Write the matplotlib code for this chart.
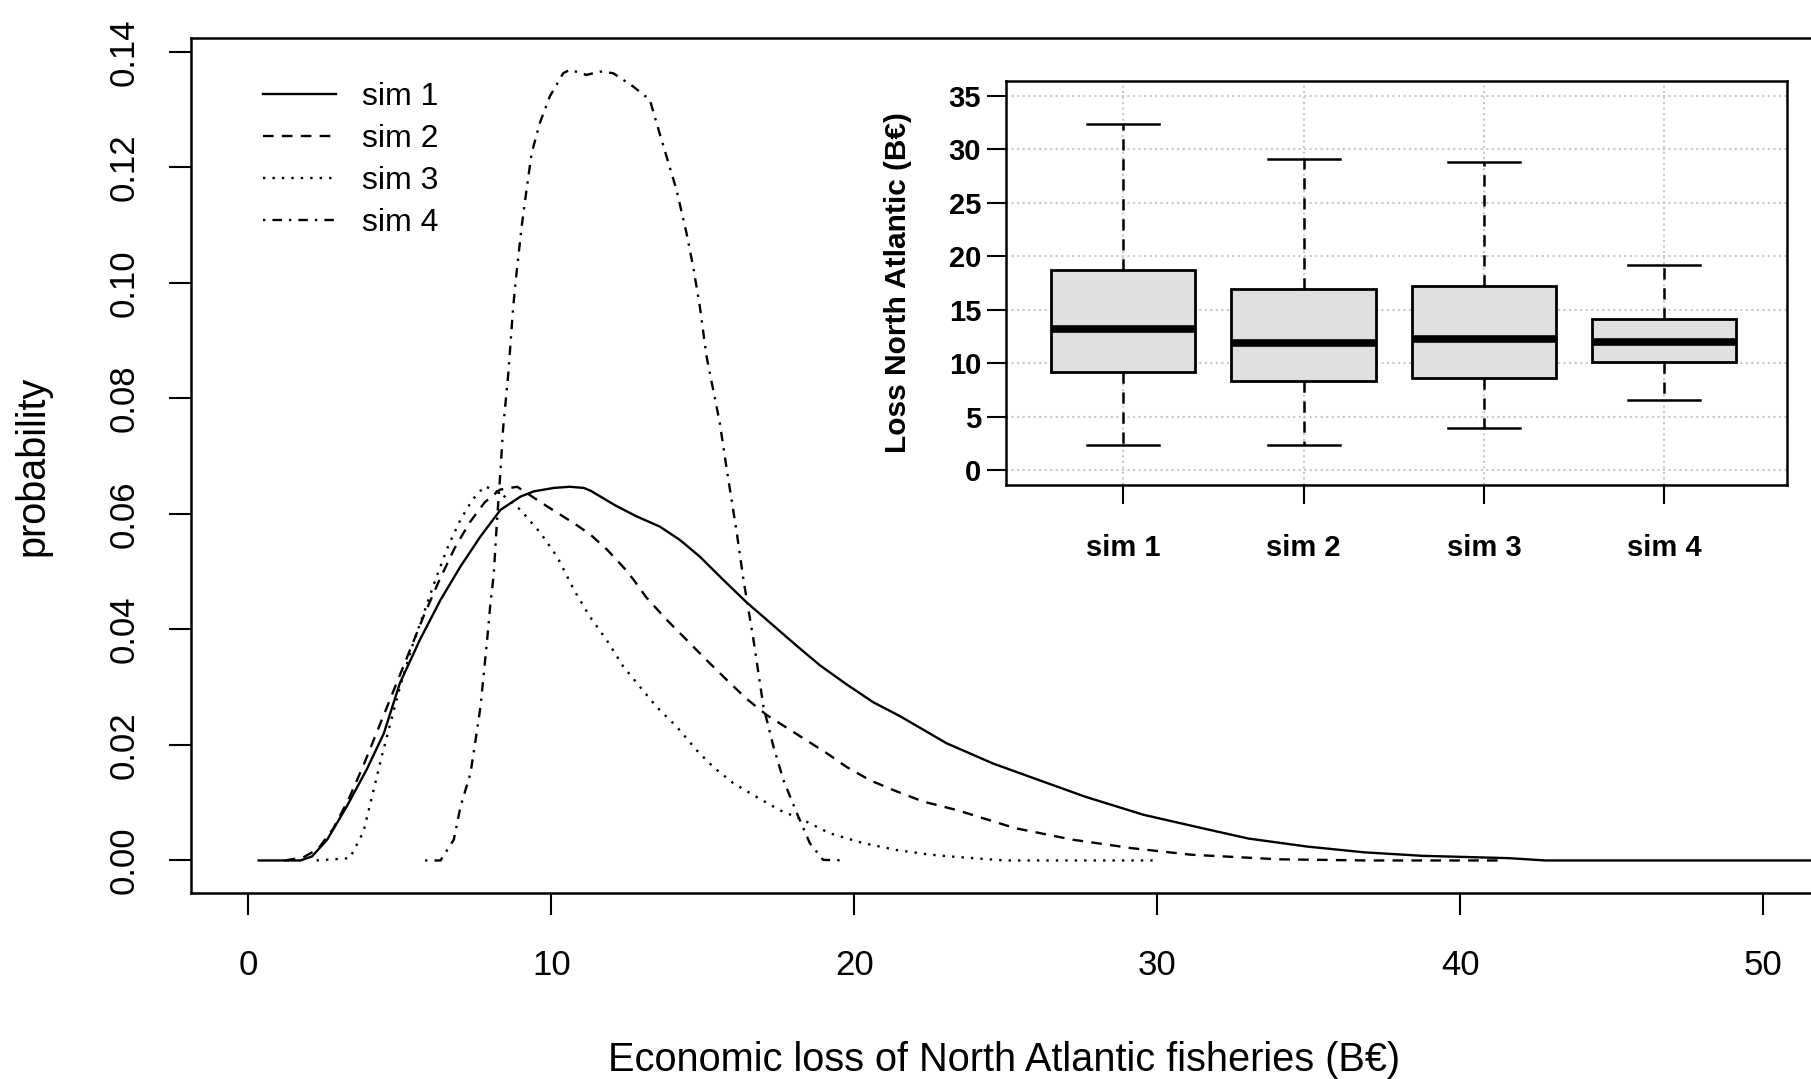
import matplotlib
matplotlib.use("Agg")
import matplotlib.pyplot as plt

plt.rcParams['font.family'] = ['Liberation Sans', 'DejaVu Sans']

# density curves of the four simulations (loss in B-euro, probability)
sim1_x = [0.34, 1.72, 2.10, 2.60, 3.24, 3.90, 4.47, 5.0, 5.66, 6.34, 7.0, 7.66, 8.32, 8.98,
          9.42, 10.08, 10.6, 11.07, 11.3, 12.1, 12.8, 13.58, 14.24, 14.9, 15.67, 16.44, 17.10,
          18.09, 18.86, 19.74, 20.62, 21.5, 23.04, 24.57, 26.1, 27.64, 29.55, 31.47, 33.0,
          34.95, 36.85, 38.76, 41.6, 42.8, 57.3]
sim1_y = [0, 0, 0.0007, 0.0036, 0.0093, 0.0157, 0.0220, 0.0307, 0.0382, 0.0451, 0.0509,
          0.0561, 0.0607, 0.0630, 0.0639, 0.0645, 0.0647, 0.0645, 0.0640, 0.0615, 0.0596,
          0.0578, 0.0555, 0.0526, 0.0486, 0.0447, 0.0417, 0.0372, 0.0338, 0.0305, 0.0274,
          0.0250, 0.0203, 0.0168, 0.0139, 0.0110, 0.0079, 0.0056, 0.0038, 0.0024, 0.0014,
          0.0008, 0.0004, 0.0, 0.0]

sim2_x = [1.2, 1.8, 2.3, 2.8, 3.3, 3.8, 4.3, 4.8, 5.3, 5.8, 6.3, 6.8, 7.3, 7.8, 8.3, 8.87,
          9.86, 10.74, 11.27, 11.84, 12.39, 12.7, 13.14, 13.8, 14.46, 15.12, 15.78, 16.44,
          17.1, 17.76, 18.42, 19.08, 19.74, 20.51, 21.28, 22.27, 23.4, 25.3, 27.2, 29.2,
          31.1, 34.0, 36.9, 41.5]
sim2_y = [0, 0.0005, 0.002, 0.0055, 0.0105, 0.0165, 0.023, 0.0295, 0.036, 0.0425, 0.0485,
          0.054, 0.0585, 0.062, 0.0642, 0.0647, 0.0613, 0.0584, 0.0565, 0.0538, 0.0507,
          0.0487, 0.0455, 0.0417, 0.0382, 0.0347, 0.0313, 0.0280, 0.0252, 0.0230, 0.0208,
          0.0186, 0.0162, 0.0139, 0.0122, 0.0102, 0.0087, 0.0056, 0.0036, 0.0021, 0.001,
          0.0002, 0.0, 0.0]

sim3_x = [2.25, 3.35, 3.8, 4.1, 4.4, 4.7, 5.0, 5.4, 5.8, 6.2, 6.6, 7.0, 7.4, 7.8, 8.32,
          8.98, 9.64, 10.19, 10.74, 11.27, 11.82, 12.37, 12.92, 13.47, 14.13, 14.79, 15.34,
          16.0, 16.77, 17.54, 18.31, 19.19, 20.29, 21.4, 22.5, 23.4, 24.96, 29.96]
sim3_y = [0, 0.0004, 0.005, 0.0115, 0.018, 0.024, 0.030, 0.037, 0.043, 0.049, 0.0545,
          0.059, 0.0625, 0.0648, 0.0636, 0.0607, 0.0567, 0.0526, 0.0469, 0.0422, 0.0382,
          0.0336, 0.0301, 0.0266, 0.0232, 0.0191, 0.0162, 0.0134, 0.0110, 0.0087, 0.0070,
          0.0047, 0.0030, 0.0018, 0.0010, 0.0006, 0.0, 0.0]

sim4_x = [5.83, 6.34, 6.78, 7.0, 7.33, 7.5, 7.66, 7.77, 7.88, 7.98, 8.1, 8.2, 8.3, 8.41,
          8.58, 8.74, 8.85, 9.02, 9.18, 9.35, 9.62, 9.95, 10.39, 10.61, 11.16, 11.6, 12.04,
          12.7, 13.25, 13.47, 13.8, 14.13, 14.46, 14.68, 14.9, 15.12, 15.34, 15.56, 15.78,
          16.12, 16.34, 16.67, 17.0, 17.33, 17.66, 18.1, 18.53, 18.97, 19.74]
sim4_y = [0, 0, 0.0036, 0.0093, 0.0151, 0.0209, 0.0266, 0.0324, 0.0382, 0.044, 0.0497,
          0.0584, 0.0659, 0.075, 0.0844, 0.0959, 0.1017, 0.1098, 0.1161, 0.1225, 0.1277,
          0.1323, 0.1363, 0.1369, 0.1360, 0.1366, 0.1363, 0.1340, 0.1317, 0.1277, 0.1219,
          0.1161, 0.1086, 0.1028, 0.0959, 0.0873, 0.0815, 0.0757, 0.0680, 0.0567, 0.0486,
          0.0382, 0.0266, 0.0197, 0.0139, 0.0082, 0.003, 0.0001, 0.0]

sim_labels = ['sim 1', 'sim 2', 'sim 3', 'sim 4']

# boxplot summary of the losses
box_whislo = [2.34, 2.34, 3.9, 6.55]
box_q1 = [9.17, 8.33, 8.64, 10.14]
box_med = [13.16, 11.92, 12.29, 11.98]
box_q3 = [18.68, 16.9, 17.16, 14.16]
box_whishi = [32.35, 29.07, 28.76, 19.18]

styles = ['-', (0, (4.5, 3.5)), (0, (1, 3)), (0, (1, 3, 4, 3))]

fig = plt.figure(figsize=(18.11, 10.79), dpi=100)
# right-hand frame edge sits just past the figure border
ax = fig.add_axes([0.1052, 0.1724, 0.8986, 0.7924])

curves = [(sim1_x, sim1_y), (sim2_x, sim2_y), (sim3_x, sim3_y), (sim4_x, sim4_y)]
for (xs, ys), ls, lab in zip(curves, styles, sim_labels):
    ax.plot(xs, ys, color='black', linestyle=ls, linewidth=1.7, label=lab)

ax.set_xlim(-1.91, 51.8)
ax.set_ylim(-0.00563, 0.1424)
ax.set_xticks([0, 10, 20, 30, 40, 50])
ax.set_yticks([0.0, 0.02, 0.04, 0.06, 0.08, 0.10, 0.12, 0.14])
ax.set_yticklabels(['%.2f' % v for v in ax.get_yticks()], rotation=90, va='center')
ax.tick_params(axis='both', length=16, width=1.5, labelsize=25, color='black')
ax.tick_params(axis='x', pad=24)
ax.tick_params(axis='y', pad=20)
for s in ax.spines.values():
    s.set_linewidth(1.8)

ax.set_xlabel('Economic loss of North Atlantic fisheries (B€)', fontsize=28.6, labelpad=43)
ax.set_ylabel('probability', fontsize=28.5, labelpad=40)

ax.legend(loc='upper left', bbox_to_anchor=(263 / 1811, 1 - 82 / 1079),
          bbox_transform=fig.transFigure, frameon=False, fontsize=23,
          handlelength=2.3, handletextpad=0.8, labelspacing=0.38,
          borderpad=0, borderaxespad=0)

# inset boxplot
ins = fig.add_axes([0.5555, 0.5505, 0.4312, 0.3747])
stats = []
for i in range(4):
    stats.append(dict(whislo=box_whislo[i], q1=box_q1[i], med=box_med[i],
                      q3=box_q3[i], whishi=box_whishi[i], fliers=[]))
ins.set_axisbelow(True)
ins.grid(True, color='#c8c8c8', linestyle=':', linewidth=1.5)
ins.bxp(stats, positions=[1, 2, 3, 4], widths=0.8, capwidths=0.4,
        showfliers=False, patch_artist=True,
        boxprops=dict(facecolor='#e0e0e0', edgecolor='black', linewidth=2),
        medianprops=dict(color='black', linewidth=5.5),
        whiskerprops=dict(color='black', linewidth=1.8, linestyle=(0, (4.5, 3.5))),
        capprops=dict(color='black', linewidth=1.8))
ins.set_xlim(0.35, 4.68)
ins.set_ylim(-1.4, 36.4)
ins.set_xticks([1, 2, 3, 4])
ins.set_xticklabels(sim_labels)
ins.set_yticks([0, 5, 10, 15, 20, 25, 30, 35])
ins.tick_params(axis='both', length=14, width=1.5, labelsize=21)
ins.tick_params(axis='x', pad=21)
ins.tick_params(axis='y', pad=4)
for t in ins.get_xticklabels() + ins.get_yticklabels():
    t.set_fontweight('bold')
ins.set_ylabel('Loss North Atlantic (B€)', fontsize=21.5, fontweight='bold', labelpad=26)
for s in ins.spines.values():
    s.set_linewidth(1.8)

fig.savefig('out.png', dpi=100)
